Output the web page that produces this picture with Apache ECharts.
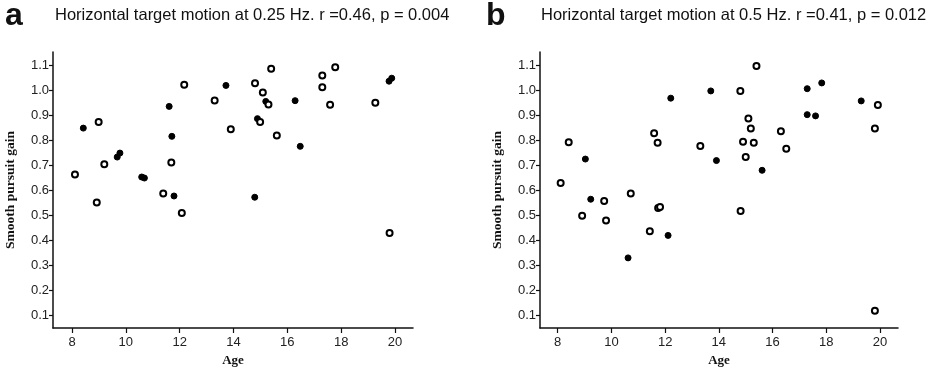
<!DOCTYPE html>
<html>
<head>
<meta charset="utf-8">
<script src="https://cdn.jsdelivr.net/npm/echarts@6/dist/echarts.min.js"></script>
<style>
  html, body { margin: 0; padding: 0; background: #fff; }
  #chart { width: 940px; height: 373px; }
</style>
</head>
<body>
<div id="chart"></div>
<script>
// panel a: 0.25 Hz  [age, gain]
const aFilled = [
  [8.42, 0.849], [9.68, 0.733], [9.78, 0.749], [10.59, 0.653], [10.69, 0.649],
  [11.79, 0.577], [11.61, 0.936], [11.71, 0.816], [13.72, 1.02], [15.2, 0.956],
  [14.89, 0.887], [16.29, 0.959], [16.48, 0.776], [14.79, 0.572], [19.78, 1.037],
  [19.88, 1.049]
];
const aOpen = [
  [8.11, 0.663], [8.99, 0.873], [8.92, 0.551], [9.2, 0.704], [11.39, 0.587],
  [11.69, 0.711], [12.17, 1.023], [12.08, 0.509], [13.3, 0.96], [13.9, 0.844],
  [14.8, 1.029], [15.4, 1.087], [15.09, 0.992], [15.3, 0.944], [14.99, 0.873],
  [15.61, 0.819], [17.3, 1.06], [17.78, 1.093], [17.3, 1.013], [17.59, 0.943],
  [19.27, 0.951], [19.8, 0.429]
];
// panel b: 0.5 Hz
const bFilled = [
  [9.03, 0.725], [9.23, 0.564], [12.21, 0.969], [13.7, 0.998], [10.62, 0.329],
  [12.11, 0.419], [13.91, 0.719], [15.61, 0.68], [17.29, 1.007], [17.83, 1.03],
  [17.29, 0.903], [17.6, 0.898], [19.3, 0.958]
];
const bOpen = [
  [8.11, 0.629], [8.41, 0.792], [9.73, 0.557], [10.72, 0.587], [11.59, 0.828],
  [11.72, 0.79], [13.31, 0.777], [11.74, 0.529], [11.81, 0.533], [8.91, 0.498],
  [9.8, 0.479], [11.43, 0.436], [14.8, 0.998], [15.4, 1.098], [15.1, 0.888],
  [15.19, 0.847], [14.9, 0.794], [15.3, 0.79], [15.0, 0.733], [16.31, 0.836],
  [16.51, 0.766], [19.92, 0.942], [19.81, 0.847], [14.81, 0.517], [19.81, 0.117]
];

const xTicks = [8, 10, 12, 14, 16, 18, 20];
const yTicks = [0.1, 0.2, 0.3, 0.4, 0.5, 0.6, 0.7, 0.8, 0.9, 1.0, 1.1];

const titles = [
  'Horizontal target motion at 0.25 Hz. r =0.46, p = 0.004',
  'Horizontal target motion at 0.5 Hz. r =0.41, p = 0.012'
];
const panelLetters = ['a', 'b'];

const chart = echarts.init(document.getElementById('chart'));

const sans = 'Liberation Sans, Arial, sans-serif';
const axisLineStyle = { show: true, lineStyle: { color: '#111', width: 1.5 } };
const tickLabel = { color: '#222', fontFamily: sans, fontSize: 13 };
const serifBold = { fontFamily: 'Liberation Serif, Times New Roman, serif', fontWeight: 'bold', fontSize: 13.5, color: '#111' };

function xAxis(idx, min) {
  return {
    type: 'value', gridIndex: idx, min: min, max: 20.67,
    name: 'Age', nameLocation: 'middle', nameGap: 24,
    nameTextStyle: Object.assign({}, serifBold, { fontSize: 13 }),
    axisLine: axisLineStyle,
    axisTick: { show: true, length: 5, customValues: xTicks, lineStyle: { color: '#111', width: 1.2 } },
    axisLabel: Object.assign({ customValues: xTicks, margin: 8 }, tickLabel),
    splitLine: { show: false }
  };
}
function yAxis(idx) {
  return {
    type: 'value', gridIndex: idx, min: 0.048, max: 1.154,
    name: 'Smooth pursuit gain', nameLocation: 'middle', nameGap: 35,
    nameTextStyle: serifBold,
    axisLine: axisLineStyle,
    axisTick: { show: true, length: 4, customValues: yTicks, lineStyle: { color: '#111', width: 1.2 } },
    axisLabel: Object.assign({ customValues: yTicks, margin: 4, formatter: v => v.toFixed(1) }, tickLabel),
    splitLine: { show: false }
  };
}
function scatter(idx, data, filled) {
  return {
    type: 'scatter', xAxisIndex: idx, yAxisIndex: idx, data: data,
    symbol: 'circle', symbolSize: 6,
    itemStyle: { color: filled ? '#000' : '#fff', borderColor: '#000', borderWidth: filled ? 1 : 2, opacity: 1 },
    emphasis: { disabled: true }
  };
}

const letterStyle = { fontFamily: sans, fontSize: 32, fontWeight: 'bold', color: '#111' };
const titleStyle = { fontFamily: sans, fontSize: 16.5, fontWeight: 'normal', color: '#111' };

chart.setOption({
  animation: false,
  backgroundColor: '#fff',
  title: [
    { text: panelLetters[0], left: 5, top: 0, padding: 0, textStyle: letterStyle },
    { text: titles[0], left: 55, top: 7, padding: 0, textStyle: titleStyle },
    { text: panelLetters[1], left: 486, top: 0, padding: 0, textStyle: letterStyle },
    { text: titles[1], left: 541, top: 7, padding: 0, textStyle: titleStyle }
  ],
  grid: [
    { left: 53, top: 52, width: 360, height: 276 },
    { left: 540, top: 52, width: 358, height: 276 }
  ],
  xAxis: [xAxis(0, 7.294), xAxis(1, 7.341)],
  yAxis: [yAxis(0), yAxis(1)],
  series: [
    scatter(0, aFilled, true),
    scatter(0, aOpen, false),
    scatter(1, bFilled, true),
    scatter(1, bOpen, false)
  ]
});
</script>
</body>
</html>
